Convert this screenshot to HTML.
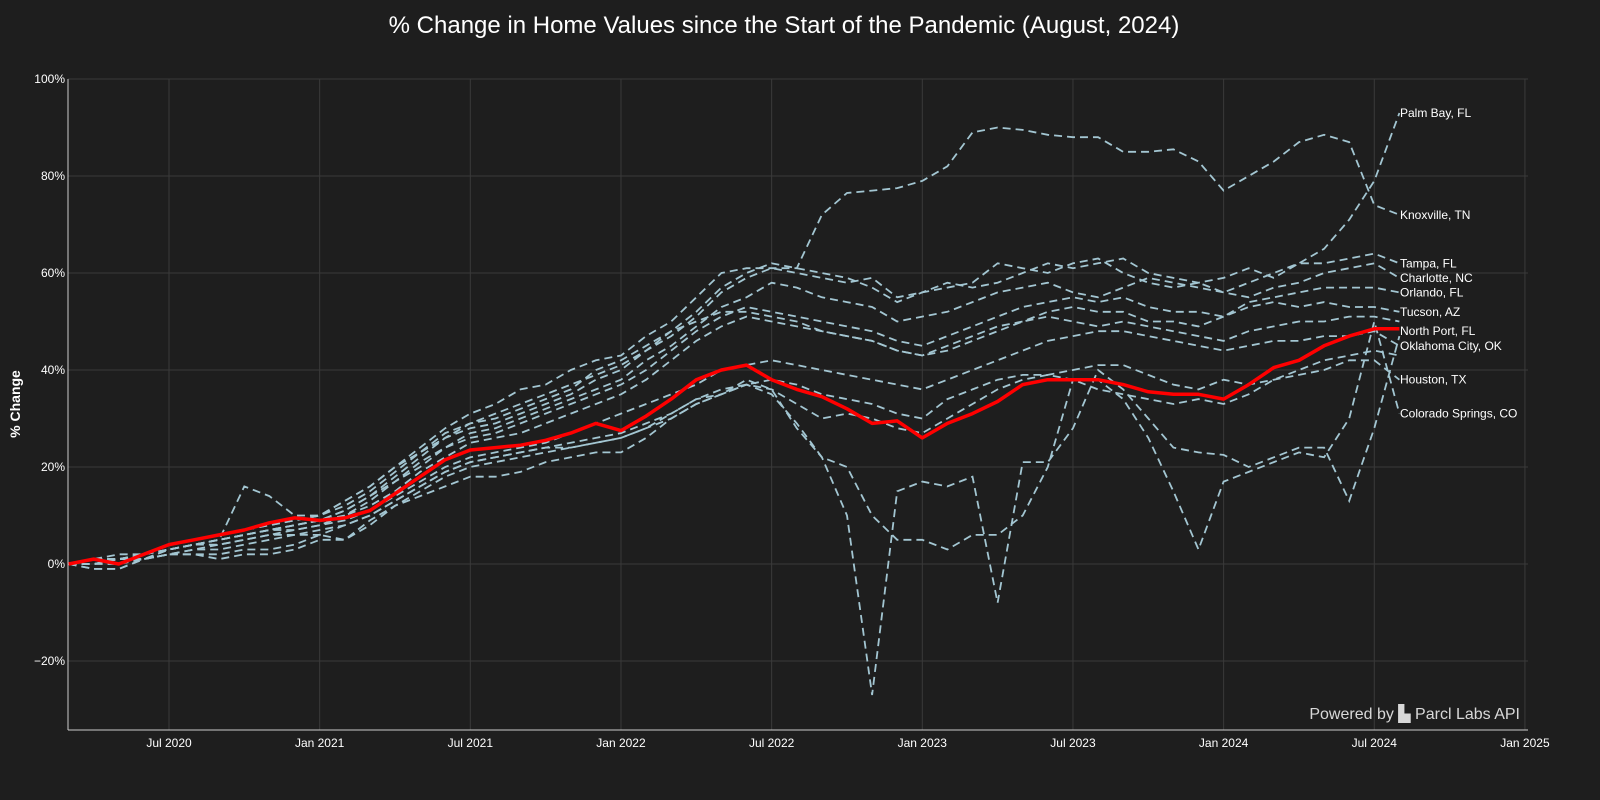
<!DOCTYPE html>
<html><head><meta charset="utf-8"><style>
body{margin:0;background:#1e1e1e;}
svg{display:block;font-family:"Liberation Sans",sans-serif;}
</style></head><body>
<svg id="chart" width="1600" height="800" viewBox="0 0 1600 800">
<rect x="0" y="0" width="1600" height="800" fill="#1e1e1e"/>
<text x="784" y="33" text-anchor="middle" fill="#ffffff" font-size="24">% Change in Home Values since the Start of the Pandemic (August, 2024)</text>
<g id="grid"></g>
<g id="series"></g>
<g id="axes"></g>
<g id="labels"></g>
<text x="20" y="404" transform="rotate(-90 20 404)" text-anchor="middle" fill="#ffffff" font-size="14" font-weight="bold">% Change</text>
<text x="1520" y="719" text-anchor="end" fill="#d8d8d8" font-size="16">Powered by ▙ Parcl Labs API</text>
</svg>
<script>
const yTicks=[-20,0,20,40,60,80,100];
const xTickLabels=["Jul 2020","Jan 2021","Jul 2021","Jan 2022","Jul 2022","Jan 2023","Jul 2023","Jan 2024","Jul 2024","Jan 2025"];
const xTickMonths=[4,10,16,22,28,34,40,46,52,58];
const seriesNames=["Knoxville, TN","Palm Bay, FL","Tampa, FL","Charlotte, NC","Orlando, FL","Tucson, AZ","Oklahoma City, OK","Houston, TX","Colorado Springs, CO","Series J","Series K","Series L"];
const sA=[0,1,2,2,4,5,6,7,8,9,10,13,16,20,24,28,31,33,36,37,40,42,43,47,50,55,60,61,61,61,72,76.5,77,77.5,79,82,89,90,89.5,88.5,88,88,85,85,85.5,83,77,80,83,87,88.5,87,74,72];
const sB=[0,1,1,2,3,4,5,6,7,8,9,11,14,18,22,26,29,31,33,35,37,39,41,44,47,51,56,59,61,60,59,58,59,55,56,57,58,62,61,60,62,63,60,58,57,58,56,58,60,62,65,71,79,93];
const sC=[0,1,1,2,4,5,6,7,8,9,10,12,15,19,23,26,28,29,31,33,35,38,40,44,48,52,57,60,62,61,60,59,57,54,56,58,57,58,60,62,61,62,63,60,59,58,59,61,59,62,62,63,64,62];
const sD=[0,0,1,1,3,4,5,6,7,8,9,11,14,17,21,24,27,28,30,32,34,36,38,42,45,49,53,55,58,57,55,54,53,50,51,52,54,56,57,58,56,55,57,59,58,57,56,55,57,58,60,61,62,59];
const sE=[0,1,1,2,3,4,5,6,7,8,9,10,13,17,20,24,26,27,29,31,33,35,37,40,44,48,51,53,52,51,50,49,48,46,45,47,49,51,53,54,55,54,55,53,52,52,51,54,55,56,57,57,57,56];
const sF=[0,0,1,1,3,4,4,5,6,7,8,10,12,15,19,22,25,26,27,29,31,33,35,38,42,46,49,51,50,49,48,47,46,44,43,45,47,49,50,52,53,52,52,50,50,49,51,53,54,53,54,53,53,52];
const sG=[0,1,1,2,3,4,5,6,7,7,8,9,11,14,17,20,22,23,24,25,27,29,31,33,35,37,40,41,42,41,40,39,38,37,36,38,40,42,44,46,47,48,48,47,46,45,44,45,46,46,47,47,48,45];
const sH=[0,0,0,1,2,3,3,4,5,6,6,8,10,13,16,19,21,22,23,24,25,26,27,29,31,34,36,37,38,37,35,34,33,31,30,34,36,38,39,39,40,41,41,39,37,36,38,37,38,39,40,42,42,38];
const sI=[0,-1,-1,1,2,2,2,3,3,4,6,5,9,12,15,18,20,21,22,23,24,25,26,28,31,34,35,37,35,29,22,20,10,5,5,3,6,6,10,20,38,38,34,26,15,3,17,19,21,23,22,30,50,31];
const sJ=[0,0,1,1,2,3,4,5,6,6,7,8,10,13,16,19,21,22,23,24,24,25,26,28,30,33,35,38,36,28,22,10,-27,15,17,16,18,-8,21,21,28,40,36,30,24,23,22.5,20,22,24,24,13,28,47];
const sK=[0,1,1,2,3,4,5,16,14,10,10,13,16,20,23,27,29,30,32,34,36,40,42,45,48,50,52,52,51,50,48,47,46,44,43,44,46,48,50,51,50,49,50,49,48,47,46,48,49,50,50,51,51,50];
const sL=[0,-1,-1,1,2,2,1,2,2,3,5,5,8,12,14,16,18,18,19,21,22,23,23,26,30,33,35,37,36,33,30,31,30,28,27,30,33,36,38,39,38,36,35,34,33,34,33,35,38,40,42,43,44,43];
const redSeries=[0,1,0,2,4,5,6,7,8.5,9.5,9,9.5,11,14.5,18,21.5,23.5,24,24.5,25.5,27,29,27.5,30.5,34,38,40,41,38,36,34.5,32,29,29.5,26,29,31,33.5,37,38,38,38,37,35.5,35,35,34,37,40.5,42,45,47,48.5,48.5];
const labelNames=["Palm Bay, FL","Knoxville, TN","Tampa, FL","Charlotte, NC","Orlando, FL","Tucson, AZ","North Port, FL","Oklahoma City, OK","Houston, TX","Colorado Springs, CO"];
const labelValues=[93,72,62,59,56,52,48,45,38,31];

const NS="http://www.w3.org/2000/svg";
const X0=68,X1=1525,Y0=79,Y1=730;
function xs(m){return 169+(m-4)*25.11;}
function ys(v){return 564-v*4.85;}
function mk(tag,attrs,parent){const e=document.createElementNS(NS,tag);for(const k in attrs)e.setAttribute(k,attrs[k]);parent.appendChild(e);return e;}
const grid=document.getElementById('grid'),axes=document.getElementById('axes'),sg=document.getElementById('series'),lg=document.getElementById('labels');
yTicks.forEach(t=>{
  const l=mk('line',{x1:X0,x2:X1+3,y1:ys(t),y2:ys(t),stroke:'#3a3a3a','stroke-width':1},grid);
  
  
  const tx=mk('text',{x:X0-3,y:ys(t)+4,'text-anchor':'end',fill:'#ffffff','font-size':12},axes);
  tx.textContent=(t<0?'\u221220':t)+'%';
  
  
});
xTickMonths.forEach((m,i)=>{
  const l=mk('line',{x1:xs(m),x2:xs(m),y1:Y0,y2:Y1,stroke:'#3a3a3a','stroke-width':1},grid);
  
  
  const tx=mk('text',{x:xs(m),y:Y1+17,'text-anchor':'middle',fill:'#ffffff','font-size':12},axes);
  tx.textContent=xTickLabels[i];
  
  
});
const ax1=mk('line',{x1:X0,x2:X0,y1:Y0,y2:Y1,stroke:'#cccccc','stroke-width':1},axes);


const ax2=mk('line',{x1:X0,x2:X1+3,y1:Y1,y2:Y1,stroke:'#cccccc','stroke-width':1},axes);


function pts(arr){return arr.map((v,i)=>xs(i).toFixed(1)+','+ys(v).toFixed(1)).join(' ');}
[sA,sB,sC,sD,sE,sF,sG,sH,sI,sJ,sK,sL].forEach((s,i)=>{
  const p=mk('polyline',{points:pts(s),fill:'none',stroke:'#a3c6d2','stroke-width':1.8,'stroke-dasharray':'8,5'},sg);
  
  
});
const red=mk('polyline',{points:pts(redSeries),fill:'none',stroke:'#ff0000','stroke-width':3.5,'stroke-linejoin':'round'},sg);


labelNames.forEach((n,i)=>{
  const t=mk('text',{x:1400,y:ys(labelValues[i])+4,fill:'#ffffff','font-size':12},lg);
  t.textContent=n;
  
  
});
</script>
</body></html>
